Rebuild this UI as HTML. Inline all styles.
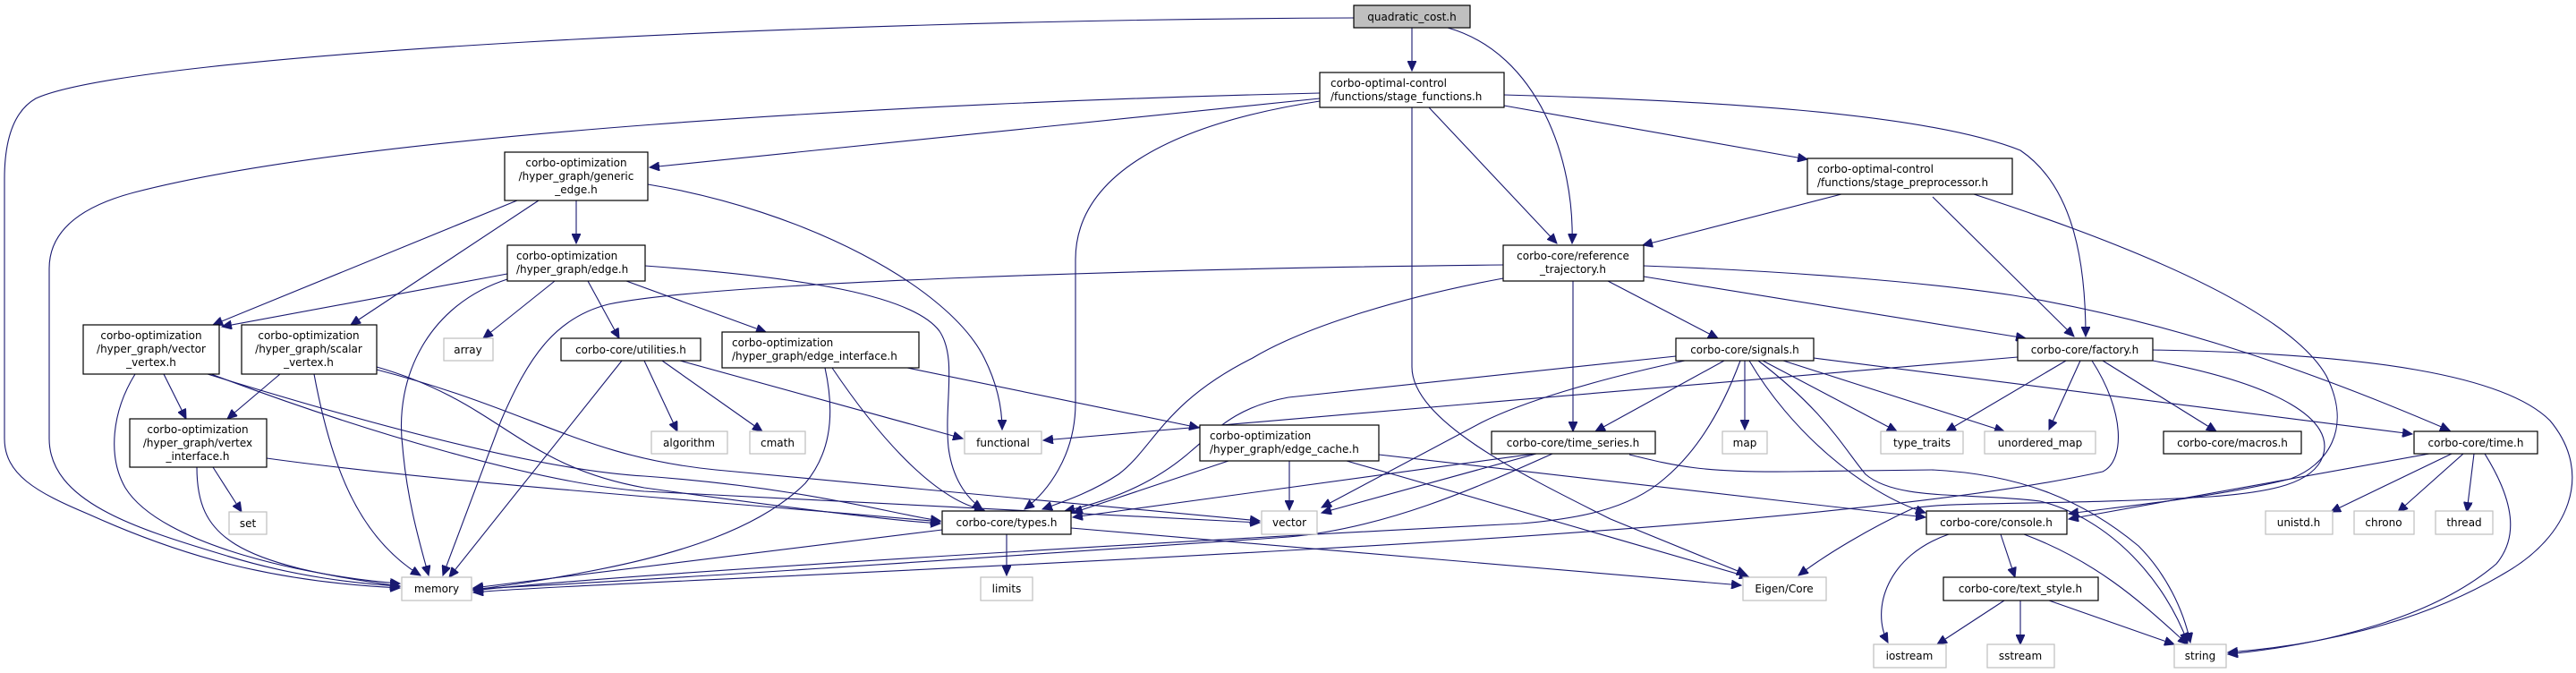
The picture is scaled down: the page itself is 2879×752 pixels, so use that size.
<!DOCTYPE html>
<html><head><meta charset="utf-8"><style>
html,body{margin:0;padding:0;background:#fff;}
svg{display:block;}
text{font-family:"DejaVu Sans","Liberation Sans",sans-serif;font-size:12px;fill:#000;text-anchor:middle;}
.n{fill:#fff;stroke:#000;stroke-width:1.2;}
.g{fill:#fff;stroke:#bfbfbf;stroke-width:1.2;}
.e{fill:none;stroke:#191970;stroke-width:1.1;}
.l{text-anchor:start;}
</style></head><body>
<svg width="2879" height="752" viewBox="0 0 2879 752" xmlns="http://www.w3.org/2000/svg">
<defs><marker id="a" markerUnits="userSpaceOnUse" markerWidth="12" markerHeight="10" refX="11" refY="5" orient="auto"><path d="M0,0 L11,5 L0,10 z" fill="#191970" stroke="#191970"/></marker></defs>
<g marker-end="url(#a)">
<path class="e" d="M1578,31 L1578,79"/>
<path class="e" d="M1618,31 C1720,60 1760,180 1757,272"/>
<path class="e" d="M1513,20 C900,22 150,60 40,110 Q5,130 5,200 L5,490 C5,530 40,550 100,575 C200,620 300,650 447,657"/>
<path class="e" d="M1475,104 C1000,115 400,150 150,215 Q55,240 55,300 L55,490 C55,560 150,590 250,620 C330,645 400,652 447,655"/>
<path class="e" d="M1475,110 L726,187"/>
<path class="e" d="M1475,113 C1300,140 1202,200 1202,290 L1202,450 C1202,510 1170,550 1145,569"/>
<path class="e" d="M1578,120 L1578,410 C1578,470 1700,530 1800,580 L1952,642"/>
<path class="e" d="M1597,120 L1740,272"/>
<path class="e" d="M1681,118 L2020,178"/>
<path class="e" d="M1681,106 C1900,112 2150,125 2258,168 C2320,210 2331,300 2331,376"/>
<path class="e" d="M578,224 L238,363"/>
<path class="e" d="M602,224 L392,363"/>
<path class="e" d="M644,224 L644,272"/>
<path class="e" d="M724,206 C900,235 1060,320 1100,400 Q1120,440 1120,480"/>
<path class="e" d="M567,306 L248,365"/>
<path class="e" d="M567,312 C480,340 440,420 450,500 C455,560 470,610 479,643"/>
<path class="e" d="M620,314 L540,378"/>
<path class="e" d="M657,314 L692,378"/>
<path class="e" d="M700,314 L856,371"/>
<path class="e" d="M721,297 C900,310 1020,330 1050,370 C1070,400 1055,450 1060,500 C1065,540 1085,560 1098,569"/>
<path class="e" d="M183,418 L208,468"/>
<path class="e" d="M151,418 C125,460 120,510 140,545 C180,610 350,645 447,652"/>
<path class="e" d="M232,418 C400,470 600,525 720,532 C900,545 1000,575 1051,582"/>
<path class="e" d="M236,418 C400,480 600,540 720,549 L1408,584"/>
<path class="e" d="M313,418 L254,468"/>
<path class="e" d="M351,418 C370,520 400,600 470,643"/>
<path class="e" d="M421,410 C560,450 580,520 720,545 C900,570 1000,582 1051,585"/>
<path class="e" d="M421,413 C600,460 650,510 800,525 L1408,582"/>
<path class="e" d="M238,522 L270,572"/>
<path class="e" d="M220,522 C220,600 260,630 447,655"/>
<path class="e" d="M298,512 C500,540 800,560 1051,583"/>
<path class="e" d="M695,403 L502,645"/>
<path class="e" d="M720,403 L757,482"/>
<path class="e" d="M740,403 L852,482"/>
<path class="e" d="M760,403 L1076,490"/>
<path class="e" d="M922,411 C935,470 925,510 900,540 C850,590 760,620 650,640 C600,650 560,655 529,659"/>
<path class="e" d="M930,411 C990,500 1050,560 1100,570"/>
<path class="e" d="M1014,411 L1340,478"/>
<path class="e" d="M1373,515 L1199,573"/>
<path class="e" d="M1441,515 L1441,570"/>
<path class="e" d="M1505,515 L1955,645"/>
<path class="e" d="M1541,508 L2152,578"/>
<path class="e" d="M2058,217 L1836,274"/>
<path class="e" d="M2160,220 L2318,376"/>
<path class="e" d="M2206,217 C2400,280 2560,350 2600,420 C2630,480 2600,520 2560,535 C2480,555 2380,565 2312,574"/>
<path class="e" d="M1680,296 C1300,300 800,315 680,340 C620,355 590,400 560,470 L495,643"/>
<path class="e" d="M1680,311 C1550,335 1450,370 1400,400 C1300,450 1290,500 1250,530 C1220,550 1190,560 1165,569"/>
<path class="e" d="M1758,314 L1758,482"/>
<path class="e" d="M1797,314 L1920,378"/>
<path class="e" d="M1837,309 L2264,378"/>
<path class="e" d="M1837,297 C2000,303 2150,315 2250,330 C2400,355 2550,400 2738,481"/>
<path class="e" d="M1873,398 L1440,444 C1380,455 1360,480 1330,505 C1290,540 1240,560 1190,571"/>
<path class="e" d="M1883,403 C1780,425 1700,450 1656,472 L1477,567"/>
<path class="e" d="M1945,403 C1920,470 1890,510 1860,535 C1820,570 1760,580 1700,585 C1400,600 700,640 529,660"/>
<path class="e" d="M1927,403 L1783,482"/>
<path class="e" d="M1950,403 L1950,480"/>
<path class="e" d="M1970,403 L2120,482"/>
<path class="e" d="M1993,403 L2240,482"/>
<path class="e" d="M1955,403 C2000,480 2080,550 2152,573"/>
<path class="e" d="M1965,403 C2040,460 2060,500 2085,530 C2120,560 2200,550 2280,560 C2360,580 2420,650 2445,718"/>
<path class="e" d="M2027,400 L2696,485"/>
<path class="e" d="M2255,399 L1166,492"/>
<path class="e" d="M2309,403 L2175,482"/>
<path class="e" d="M2325,403 L2290,480"/>
<path class="e" d="M2350,403 L2477,482"/>
<path class="e" d="M2338,403 C2375,460 2375,515 2350,527 C2200,560 1900,590 1440,615 C1000,640 600,655 529,662"/>
<path class="e" d="M2406,391 C2650,395 2800,420 2850,470 C2900,530 2870,600 2800,640 C2700,700 2580,722 2490,729"/>
<path class="e" d="M2406,403 C2550,430 2610,470 2596,510 C2585,540 2540,550 2470,555 C2300,565 2180,560 2138,568 C2090,590 2040,620 2010,643"/>
<path class="e" d="M1715,507 L1199,578"/>
<path class="e" d="M1717,507 L1477,573"/>
<path class="e" d="M1735,507 C1650,545 1550,590 1440,600 C1000,630 700,650 529,658"/>
<path class="e" d="M1821,508 C1870,520 1900,528 2000,527 L2160,525 C2260,530 2330,560 2390,610 C2420,640 2440,680 2448,718"/>
<path class="e" d="M1053,592 L529,657"/>
<path class="e" d="M1125,597 L1125,643"/>
<path class="e" d="M1197,590 L1946,654"/>
<path class="e" d="M2715,507 L2312,580"/>
<path class="e" d="M2740,507 L2605,572"/>
<path class="e" d="M2753,507 L2680,572"/>
<path class="e" d="M2765,507 L2757,572"/>
<path class="e" d="M2777,507 C2810,560 2815,600 2790,630 C2720,690 2600,720 2490,731"/>
<path class="e" d="M2178,597 C2110,620 2090,680 2110,718"/>
<path class="e" d="M2236,597 L2252,645"/>
<path class="e" d="M2262,597 C2350,630 2400,680 2445,720"/>
<path class="e" d="M2240,671 L2165,720"/>
<path class="e" d="M2258,671 L2258,720"/>
<path class="e" d="M2290,671 L2430,720"/>
</g>
<rect x="1513" y="6" width="130" height="25" fill="#bfbfbf" stroke="#000" stroke-width="1.2"/><text x="1578" y="23">quadratic_cost.h</text>
<rect class="n" x="1475" y="81" width="206" height="39"/><text class="l" x="1487" y="97">corbo-optimal-control</text><text class="l" x="1487" y="112">/functions/stage_functions.h</text>
<rect class="n" x="2020" y="177" width="229" height="40"/><text class="l" x="2031" y="193">corbo-optimal-control</text><text class="l" x="2031" y="208">/functions/stage_preprocessor.h</text>
<rect class="n" x="564" y="170" width="160" height="54"/><text x="644" y="186">corbo-optimization</text><text x="644" y="201">/hyper_graph/generic</text><text x="644" y="216">_edge.h</text>
<rect class="n" x="567" y="274" width="154" height="40"/><text class="l" x="577" y="290">corbo-optimization</text><text class="l" x="577" y="305">/hyper_graph/edge.h</text>
<rect class="n" x="1680" y="274" width="157" height="40"/><text x="1758" y="290">corbo-core/reference</text><text x="1758" y="305">_trajectory.h</text>
<rect class="n" x="93" y="363" width="152" height="55"/><text x="169" y="379">corbo-optimization</text><text x="169" y="394">/hyper_graph/vector</text><text x="169" y="409">_vertex.h</text>
<rect class="n" x="270" y="363" width="151" height="55"/><text x="345" y="379">corbo-optimization</text><text x="345" y="394">/hyper_graph/scalar</text><text x="345" y="409">_vertex.h</text>
<rect class="g" x="496" y="378" width="55" height="25"/><text x="523" y="395">array</text>
<rect class="n" x="627" y="378" width="156" height="25"/><text x="705" y="395">corbo-core/utilities.h</text>
<rect class="n" x="807" y="371" width="220" height="40"/><text class="l" x="818" y="387">corbo-optimization</text><text class="l" x="818" y="402">/hyper_graph/edge_interface.h</text>
<rect class="n" x="1873" y="378" width="154" height="25"/><text x="1950" y="395">corbo-core/signals.h</text>
<rect class="n" x="2255" y="378" width="151" height="25"/><text x="2330" y="395">corbo-core/factory.h</text>
<rect class="n" x="145" y="468" width="153" height="54"/><text x="221" y="484">corbo-optimization</text><text x="221" y="499">/hyper_graph/vertex</text><text x="221" y="514">_interface.h</text>
<rect class="g" x="728" y="482" width="85" height="25"/><text x="770" y="499">algorithm</text>
<rect class="g" x="838" y="482" width="62" height="25"/><text x="869" y="499">cmath</text>
<rect class="g" x="1078" y="482" width="86" height="25"/><text x="1121" y="499">functional</text>
<rect class="n" x="1341" y="475" width="200" height="40"/><text class="l" x="1352" y="491">corbo-optimization</text><text class="l" x="1352" y="506">/hyper_graph/edge_cache.h</text>
<rect class="n" x="1667" y="482" width="183" height="25"/><text x="1758" y="499">corbo-core/time_series.h</text>
<rect class="g" x="1925" y="482" width="50" height="25"/><text x="1950" y="499">map</text>
<rect class="g" x="2102" y="482" width="92" height="25"/><text x="2148" y="499">type_traits</text>
<rect class="g" x="2218" y="482" width="124" height="25"/><text x="2280" y="499">unordered_map</text>
<rect class="n" x="2418" y="482" width="154" height="25"/><text x="2495" y="499">corbo-core/macros.h</text>
<rect class="n" x="2698" y="482" width="138" height="25"/><text x="2767" y="499">corbo-core/time.h</text>
<rect class="g" x="256" y="572" width="42" height="25"/><text x="277" y="589">set</text>
<rect class="n" x="1053" y="571" width="144" height="26"/><text x="1125" y="588">corbo-core/types.h</text>
<rect class="g" x="1410" y="571" width="62" height="26"/><text x="1441" y="588">vector</text>
<rect class="n" x="2153" y="571" width="157" height="26"/><text x="2231" y="588">corbo-core/console.h</text>
<rect class="g" x="2532" y="571" width="75" height="26"/><text x="2569" y="588">unistd.h</text>
<rect class="g" x="2631" y="571" width="67" height="26"/><text x="2664" y="588">chrono</text>
<rect class="g" x="2722" y="571" width="64" height="26"/><text x="2754" y="588">thread</text>
<rect class="g" x="449" y="645" width="78" height="26"/><text x="488" y="662">memory</text>
<rect class="g" x="1096" y="645" width="58" height="26"/><text x="1125" y="662">limits</text>
<rect class="g" x="1948" y="645" width="93" height="26"/><text x="1994" y="662">Eigen/Core</text>
<rect class="n" x="2172" y="645" width="173" height="26"/><text x="2258" y="662">corbo-core/text_style.h</text>
<rect class="g" x="2094" y="720" width="81" height="26"/><text x="2134" y="737">iostream</text>
<rect class="g" x="2221" y="720" width="75" height="26"/><text x="2258" y="737">sstream</text>
<rect class="g" x="2430" y="720" width="58" height="26"/><text x="2459" y="737">string</text>
</svg>
</body></html>
